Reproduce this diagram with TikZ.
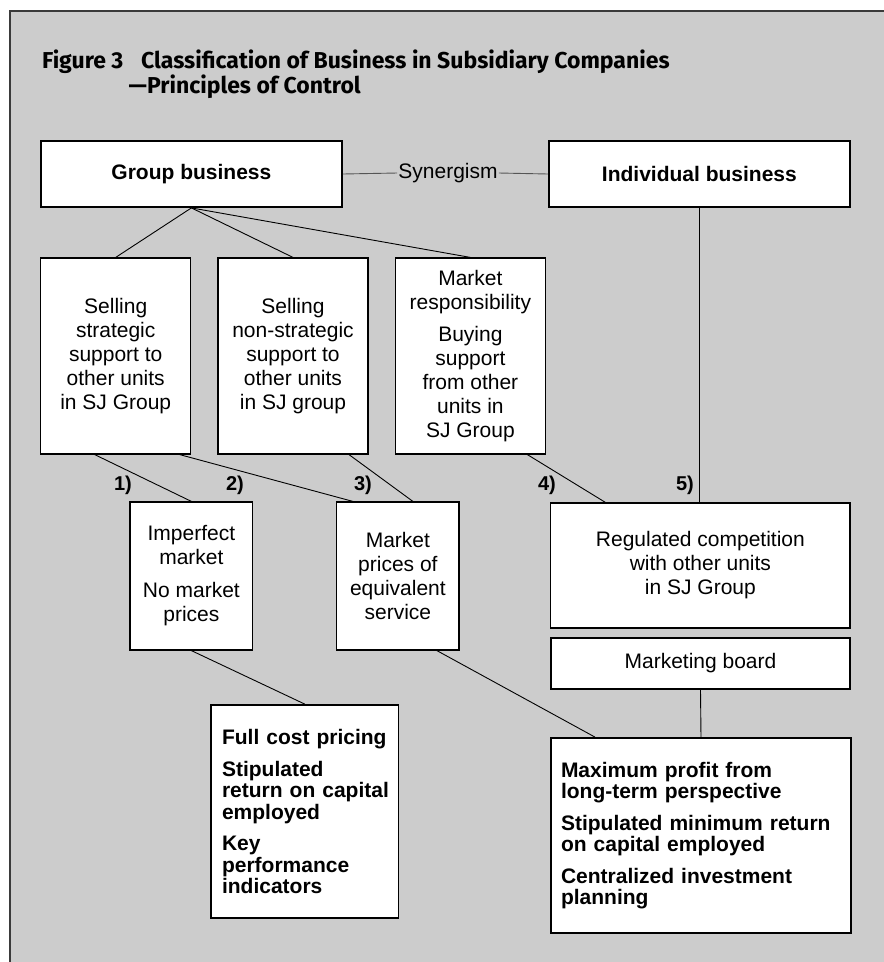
\documentclass[tikz,border=0pt]{standalone}
\usepackage{fontspec}
\setmainfont{Liberation Sans}
\newfontfamily\titlefont{Fira Sans}
\definecolor{panelgray}{HTML}{CCCCCC}
\definecolor{framegray}{HTML}{3A3A3A}
\definecolor{syngray}{HTML}{555555}

\begin{document}
\begin{tikzpicture}[x=1pt, y=-1pt,
	plainbox/.style={draw, fill=white, line width=1.2pt, inner sep=0pt, align=center, font=\fontsize{21}{24}\selectfont},
	boldbox/.style={draw, fill=white, line width=1.8pt, font=\bfseries\fontsize{21}{21.5}\selectfont},
	link/.style={line width=0.9pt},
	tag/.style={font=\bfseries\fontsize{20}{20}\selectfont},
	headline/.style={anchor=base west, font=\titlefont\bfseries\fontsize{23}{23}\selectfont}]
	
	\useasboundingbox (0,0) rectangle (884,962);
	%panel
	\draw[framegray, line width=2pt, fill=panelgray] (10,11) rectangle (900,980);
	
	%title
	\node[headline, inner sep=0pt] (fignum) at (42,68) {Figure 3};
	\node[headline, inner sep=0pt] (title1) at (141,68) {Classification of Business in Subsidiary Companies};
	\node[headline, inner sep=0pt] (title2) at (128.5,93) {—Principles of Control};
	
	%top level
	\node[boldbox, minimum width=301pt, minimum height=66pt] (group) at (191.4,174) {Group business};
	\node[boldbox, minimum width=301pt, minimum height=66pt] (indiv) at (699.4,174) {Individual business};
	\node[font=\fontsize{21}{21}\selectfont, inner sep=1pt] (syn) at (448,173) {Synergism};
	\draw[link, syngray] (group.east) -- (syn.west);
	\draw[link, syngray] (syn.east) -- (indiv.west);
	
	%second level
	\node[plainbox, minimum width=150pt, minimum height=196pt] (sellS) at (115.7,356)
		{Selling\\strategic\\support to\\other units\\in SJ Group};
	\node[plainbox, minimum width=150pt, minimum height=196pt] (sellN) at (293,356)
		{Selling\\non-strategic\\support to\\other units\\in SJ group};
	\node[plainbox, minimum width=150pt, minimum height=196pt] (marketR) at (470.4,356)
		{Market\\responsibility\\[8pt]Buying\\support\\from other\\units in\\SJ Group};
	\draw[link] (group.south) -- (sellS.north);
	\draw[link] (group.south) -- (sellN.north);
	\draw[link] (group.south) -- (marketR.north);
	
	%pricing
	\node[plainbox, minimum width=122.7pt, minimum height=148pt] (imperfect) at (191.4,576)
		{Imperfect\\market\\[9pt]No market\\prices};
	\node[plainbox, minimum width=122.3pt, minimum height=148pt] (prices) at (397.9,576)
		{Market\\prices of\\equivalent\\service};
	\node[plainbox, minimum width=299.3pt, minimum height=125pt] (regcomp) at (700.4,565.5)
		{Regulated competition\\with other units\\in SJ Group};
	\node[plainbox, minimum width=299pt, minimum height=51pt] (board) at (700.5,663.5) {Marketing board};
	
	\draw[link] ([xshift=-21pt]sellS.south) -- (imperfect.north);
	\draw[link] ([xshift=64pt]sellS.south) -- ([xshift=-45pt]prices.north);
	\draw[link] ([xshift=56pt]sellN.south) -- ([xshift=15pt]prices.north);
	\draw[link] ([xshift=57pt]marketR.south) -- ([xshift=-95pt]regcomp.north);
	\draw[link] (indiv.south) -- (indiv.south |- regcomp.north);
	
	\foreach \n/\x in {1/123, 2/235, 3/363, 4/547, 5/685}{
		\node[tag] (tag\n) at (\x,485) {\n)};
	}
	
	%control principles
	\node[boldbox, align=left, inner xsep=11pt, text width=165.5pt, minimum height=213pt] (fullcost) at (304.8,811.5)
		{Full cost pricing\\[10pt]Stipulated\\\mbox{return on capital}\\employed\\[10pt]Key\\performance\\indicators};
	\node[boldbox, align=left, inner xsep=10pt, text width=280pt, minimum height=195pt] (maxprofit) at (701,835.5)
		{Maximum profit from\\long-term perspective\\[10pt]Stipulated minimum return\\on capital employed\\[10pt]Centralized investment\\planning};
	\draw[link] (imperfect.south) -- (fullcost.north);
	\draw[link] ([xshift=39pt]prices.south) -- ([xshift=-106pt]maxprofit.north);
	\draw[link] (board.south) -- (maxprofit.north);
\end{tikzpicture}
\end{document}
